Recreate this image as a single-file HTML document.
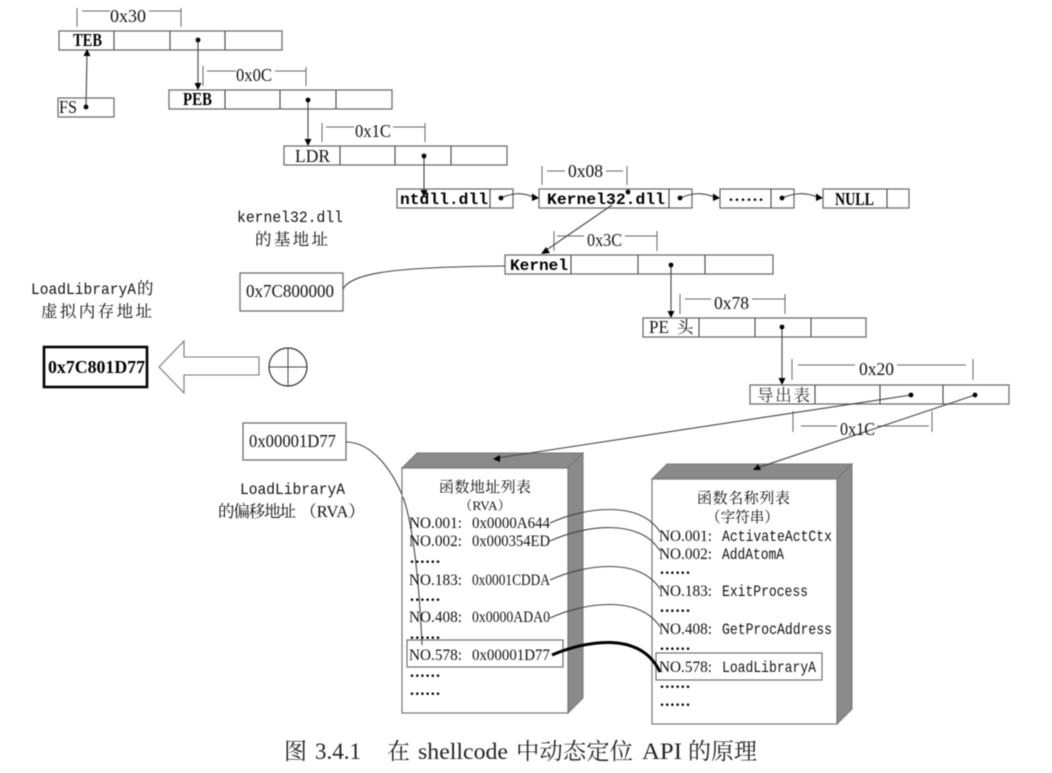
<!DOCTYPE html>
<html><head><meta charset="utf-8">
<style>
html,body{margin:0;padding:0;background:#fff;width:1052px;height:773px;overflow:hidden}
svg{display:block;filter:blur(0.55px)}
text{font-family:"Liberation Serif","Noto Serif CJK SC",serif;font-size:16px;fill:#111}
.m{font-family:"Liberation Mono","Noto Serif CJK SC",monospace;font-size:16px}
.h{font-size:18px}
.z{font-size:16.500px}
.b{font-weight:bold;fill:#000}
.c{fill:#333}
.cap{font-size:23px;fill:#222}
.box{fill:#fff;stroke:#666;stroke-width:1.2}
.l{fill:none;stroke:#444;stroke-width:1.1}
.d{fill:none;stroke:#666;stroke-width:1}
.k{fill:#000}
</style></head><body>
<svg width="1052" height="773" viewBox="0 0 1052 773" xmlns="http://www.w3.org/2000/svg">
<rect width="1052" height="773" fill="#fff"/>

<!-- record boxes -->
<g class="box">
<rect x="59" y="31" width="223" height="19"/>
<rect x="58" y="98" width="56" height="19"/>
<rect x="169" y="90" width="223" height="19"/>
<rect x="284" y="146" width="223" height="19"/>
<rect x="397" y="189" width="116" height="19"/>
<rect x="539" y="189" width="153" height="19"/>
<rect x="720" y="189" width="74" height="19"/>
<rect x="823" y="189" width="86" height="19"/>
<rect x="505" y="255" width="268" height="19"/>
<rect x="643" y="318" width="223" height="19"/>
<rect x="750" y="385" width="259" height="19"/>
<rect x="240" y="273" width="103" height="38"/>
<rect x="243" y="423" width="103" height="37"/>
</g>
<path class="l" d="M114 31V50M170 31V50M225 31V50M225 90V109M280 90V109M336 90V109M340 146V165M395 146V165M451 146V165M490 189V208M669 189V208M771 189V208M887 189V208M571 255V274M638 255V274M705 255V274M699 318V337M755 318V337M811 318V337M815 385V404M880 385V404M943 385V404"/>
<rect x="44" y="347" width="103" height="40" fill="#fff" stroke="#000" stroke-width="2.6"/>

<!-- offset brackets -->
<path class="d" d="M77 8V27M82 11H110M149 11H181M181 8V27
M203 66V86M207 71H236M275 71H306M306 67V86
M322 123V142M326 127H354M393 127H425M425 123V142
M542 166V185M547 171H565M606 171H623M627 166V185
M554 231V251M557 236H584M625 236H657M657 231V251
M680 294V314M685 299H711M752 299H785M785 294V314
M792 359V380M798 365H855M897 365H966M973 359V380
M793 411V432M801 426H837M877 426H929M932 411V432"/>

<!-- pointer lines -->
<path class="l" d="M86 107L87 54M198 40V85M308 100V141M424 156V191
M501 198C512 193 522 192 533 197M680 198C692 193 702 192 714 197M782 198C794 193 805 192 817 197
M612 205L545 251
M671 265V313M782 327V380
M343 289C352 272 400 267 505 266
M346 442C372 442 392 470 403 497"/>
<g class="k">
<circle cx="86" cy="107" r="2.4"/><circle cx="198" cy="40" r="2.4"/><circle cx="308" cy="100" r="2.4"/><circle cx="424" cy="156" r="2.4"/>
<circle cx="501" cy="198" r="2.4"/><circle cx="628" cy="192" r="2.4"/><circle cx="680" cy="198" r="2.4"/><circle cx="782" cy="198" r="2.4"/>
<circle cx="671" cy="265" r="2.4"/><circle cx="782" cy="327" r="2.4"/>
<polygon points="87,49 83.500,56 90.500,56"/>
<polygon points="198,90 194.500,83 201.500,83"/>
<polygon points="308,146 304.500,139 311.500,139"/>
<polygon points="424,197 420.500,190 427.500,190"/>
<polygon points="539,198 532,193.500 532,201"/>
<polygon points="720,198 713,193.500 713,201"/>
<polygon points="823,198 816,193.500 816,201"/>
<polygon points="541,254 546,247 550,253"/>
<polygon points="671,318 667.500,311 674.500,311"/>
<polygon points="782,385 778.500,378 785.500,378"/>
</g>

<!-- plus operator and arrow -->
<polygon points="159,367 184,341 184,357 259,357 259,375 184,375 184,393" fill="#fff" stroke="#777" stroke-width="1.1"/>
<circle cx="288" cy="367" r="19" fill="#fff" stroke="#333" stroke-width="1.2"/>
<path d="M269 367H307M288 348V386" stroke="#444" stroke-width="1" fill="none"/>

<!-- cubes -->
<polygon points="402,468 417,453 583,453 568,468" fill="#8a8a8a" stroke="#777"/>
<polygon points="568,468 583,453 583,698 568,713" fill="#8a8a8a" stroke="#777"/>
<rect x="402" y="468" width="166" height="245" fill="#fff" stroke="#777" stroke-width="1.2"/>
<polygon points="652,479 667,464 852,464 837,479" fill="#8a8a8a" stroke="#777"/>
<polygon points="837,479 852,464 852,709 837,724" fill="#8a8a8a" stroke="#777"/>
<rect x="652" y="479" width="185" height="245" fill="#fff" stroke="#777" stroke-width="1.2"/>
<rect x="407" y="640" width="156" height="27" fill="none" stroke="#666" stroke-width="1.1"/>
<rect x="656" y="653" width="166" height="27" fill="none" stroke="#666" stroke-width="1.1"/>

<!-- long lines to cubes and the offset curve inside cube -->
<path class="l" d="M911 395L497 458M975 395L757 468M403 497C415 530 420 600 422 645"/>
<circle class="k" cx="911" cy="395" r="2.4"/>
<circle class="k" cx="975" cy="395" r="2.4"/>
<polygon class="k" points="493,459 500,455 500,462"/>
<polygon class="k" points="753,470 758,464 761,470"/>

<!-- name-table links -->
<path class="l" d="M550 523C585 507 640 500 660 532M550 541C585 525 640 518 660 551M550 580C585 564 640 557 660 589M550 618C585 602 640 595 660 627"/>
<path d="M552 655C585 641 640 630 660 672" fill="none" stroke="#000" stroke-width="3"/>

<!-- record labels -->
<text class="b h" x="73" y="46" textLength="29" lengthAdjust="spacingAndGlyphs">TEB</text>
<text class="h" x="59" y="113" textLength="18" lengthAdjust="spacingAndGlyphs">FS</text>
<text class="b h" x="183" y="105" textLength="29" lengthAdjust="spacingAndGlyphs">PEB</text>
<text class="h" x="295" y="162" textLength="35" lengthAdjust="spacingAndGlyphs">LDR</text>
<text class="m b" x="400" y="204" textLength="88" lengthAdjust="spacingAndGlyphs">ntdll.dll</text>
<text class="m b" x="547" y="204" textLength="118" lengthAdjust="spacingAndGlyphs">Kernel32.dll</text>
<text class="b" x="729" y="201" textLength="34" lengthAdjust="spacing">......</text>
<text class="b h" x="835" y="205" textLength="39" lengthAdjust="spacingAndGlyphs">NULL</text>
<text class="m b" x="510" y="270" textLength="58" lengthAdjust="spacingAndGlyphs">Kernel</text>
<text class="h" x="649" y="333" textLength="20" lengthAdjust="spacingAndGlyphs">PE</text>
<text class="z" x="677" y="333">头</text>
<text class="z c" x="757" y="401" textLength="53" lengthAdjust="spacing">导出表</text>

<!-- offsets -->
<text class="h" x="110" y="22" textLength="36" lengthAdjust="spacingAndGlyphs">0x30</text>
<text class="h" x="236" y="81" textLength="36" lengthAdjust="spacingAndGlyphs">0x0C</text>
<text class="h" x="355" y="137" textLength="36" lengthAdjust="spacingAndGlyphs">0x1C</text>
<text class="h" x="568" y="177" textLength="35" lengthAdjust="spacingAndGlyphs">0x08</text>
<text class="h" x="587" y="246" textLength="35" lengthAdjust="spacingAndGlyphs">0x3C</text>
<text class="h" x="714" y="309" textLength="35" lengthAdjust="spacingAndGlyphs">0x78</text>
<text class="h" x="859" y="375" textLength="35" lengthAdjust="spacingAndGlyphs">0x20</text>
<text class="h" x="840" y="435" textLength="35" lengthAdjust="spacingAndGlyphs">0x1C</text>

<!-- side labels -->
<text class="m" x="237" y="222" textLength="106" lengthAdjust="spacingAndGlyphs">kernel32.dll</text>
<text class="z" x="255" y="245" textLength="73" lengthAdjust="spacing">的基地址</text>
<text class="m" x="31" y="294" textLength="105" lengthAdjust="spacingAndGlyphs">LoadLibraryA</text>
<text class="z" x="137" y="294">的</text>
<text class="z" x="41" y="317" textLength="111" lengthAdjust="spacing">虚拟内存地址</text>
<text class="h" x="246" y="297" textLength="88" lengthAdjust="spacingAndGlyphs">0x7C800000</text>
<text class="b h" x="48" y="373" textLength="97" lengthAdjust="spacingAndGlyphs">0x7C801D77</text>
<text class="h" x="249" y="447" textLength="87" lengthAdjust="spacingAndGlyphs">0x00001D77</text>
<text class="m" x="240" y="494" textLength="105" lengthAdjust="spacingAndGlyphs">LoadLibraryA</text>
<text class="z" x="218" y="517" textLength="78" lengthAdjust="spacing">的偏移地址</text>
<text class="z" x="300" y="517" textLength="65" lengthAdjust="spacingAndGlyphs">（RVA）</text>

<!-- left list -->
<text style="font-size:15px" x="439" y="492" textLength="92" lengthAdjust="spacing">函数地址列表</text>
<text style="font-size:13px" x="459" y="510" textLength="52" lengthAdjust="spacingAndGlyphs">（RVA）</text>
<text x="409" y="528" textLength="53" lengthAdjust="spacingAndGlyphs">NO.001:</text><text x="472" y="528" textLength="78" lengthAdjust="spacingAndGlyphs">0x0000A644</text>
<text x="409" y="546" textLength="53" lengthAdjust="spacingAndGlyphs">NO.002:</text><text x="472" y="546" textLength="78" lengthAdjust="spacingAndGlyphs">0x000354ED</text>
<text class="b" x="410" y="563" textLength="30" lengthAdjust="spacing">......</text>
<text x="409" y="585" textLength="53" lengthAdjust="spacingAndGlyphs">NO.183:</text><text x="472" y="585" textLength="78" lengthAdjust="spacingAndGlyphs">0x0001CDDA</text>
<text class="b" x="410" y="601" textLength="30" lengthAdjust="spacing">......</text>
<text x="409" y="622" textLength="53" lengthAdjust="spacingAndGlyphs">NO.408:</text><text x="472" y="622" textLength="78" lengthAdjust="spacingAndGlyphs">0x0000ADA0</text>
<text class="b" x="410" y="639" textLength="30" lengthAdjust="spacing">......</text>
<text x="409" y="660" textLength="53" lengthAdjust="spacingAndGlyphs">NO.578:</text><text x="472" y="660" textLength="78" lengthAdjust="spacingAndGlyphs">0x00001D77</text>
<text class="b" x="410" y="677" textLength="30" lengthAdjust="spacing">......</text>
<text class="b" x="410" y="695" textLength="30" lengthAdjust="spacing">......</text>

<!-- right list -->
<text style="font-size:15px" x="697" y="503" textLength="93" lengthAdjust="spacing">函数名称列表</text>
<text style="font-size:15px" x="706" y="522" textLength="73" lengthAdjust="spacingAndGlyphs">（字符串）</text>
<text x="659" y="541" textLength="53" lengthAdjust="spacingAndGlyphs">NO.001:</text><text class="m" x="722" y="541" textLength="110" lengthAdjust="spacingAndGlyphs">ActivateActCtx</text>
<text x="659" y="559" textLength="53" lengthAdjust="spacingAndGlyphs">NO.002:</text><text class="m" x="722" y="559" textLength="62" lengthAdjust="spacingAndGlyphs">AddAtomA</text>
<text class="b" x="660" y="574" textLength="30" lengthAdjust="spacing">......</text>
<text x="659" y="596" textLength="53" lengthAdjust="spacingAndGlyphs">NO.183:</text><text class="m" x="722" y="596" textLength="86" lengthAdjust="spacingAndGlyphs">ExitProcess</text>
<text class="b" x="660" y="612" textLength="30" lengthAdjust="spacing">......</text>
<text x="659" y="634" textLength="53" lengthAdjust="spacingAndGlyphs">NO.408:</text><text class="m" x="722" y="634" textLength="110" lengthAdjust="spacingAndGlyphs">GetProcAddress</text>
<text class="b" x="660" y="650" textLength="30" lengthAdjust="spacing">......</text>
<text x="659" y="672" textLength="53" lengthAdjust="spacingAndGlyphs">NO.578:</text><text class="m" x="722" y="672" textLength="94" lengthAdjust="spacingAndGlyphs">LoadLibraryA</text>
<text class="b" x="660" y="688" textLength="30" lengthAdjust="spacing">......</text>
<text class="b" x="660" y="706" textLength="30" lengthAdjust="spacing">......</text>

<!-- caption -->
<text class="cap" x="284" y="759">图</text>
<text class="cap" x="315" y="759" textLength="46" lengthAdjust="spacingAndGlyphs">3.4.1</text>
<text class="cap" x="387" y="759">在</text>
<text class="cap" x="418" y="759" textLength="90" lengthAdjust="spacingAndGlyphs">shellcode</text>
<text class="cap" x="516" y="759" textLength="117" lengthAdjust="spacingAndGlyphs">中动态定位</text>
<text class="cap" x="642" y="759" textLength="40" lengthAdjust="spacingAndGlyphs">API</text>
<text class="cap" x="688" y="759" textLength="69" lengthAdjust="spacingAndGlyphs">的原理</text>
</svg>
</body></html>
